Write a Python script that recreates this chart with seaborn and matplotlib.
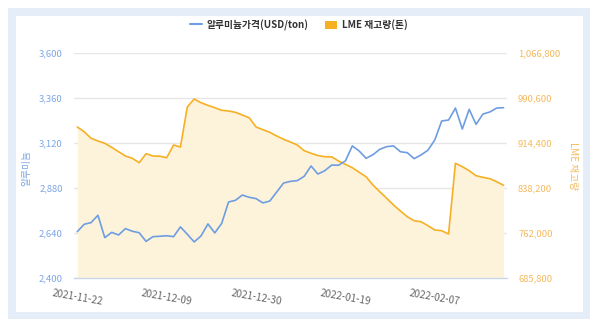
import numpy as np
import pandas as pd
import matplotlib
matplotlib.use("Agg")
import matplotlib.pyplot as plt
from matplotlib.patches import Rectangle, Patch
from matplotlib.lines import Line2D
import seaborn as sns

# LME trading days (exchange closed for the Christmas / New Year holidays)
lme_holidays = ["2021-12-27", "2021-12-28", "2022-01-03"]
trade_dates = pd.bdate_range("2021-11-22", "2022-02-21", freq="C", holidays=lme_holidays)

# Aluminium cash price, USD/ton
price = [2649, 2688, 2697, 2736, 2617, 2645, 2631, 2665, 2651, 2643,
         2597, 2622, 2624, 2627, 2622, 2674, 2635, 2594, 2626, 2690,
         2642, 2693, 2807, 2816, 2844, 2832, 2825, 2802, 2812, 2860,
         2908, 2917, 2921, 2944, 2999, 2956, 2974, 3004, 3003, 3026,
         3106, 3079, 3040, 3059, 3088, 3102, 3106, 3075, 3070, 3038,
         3058, 3083, 3138, 3239, 3244, 3308, 3196, 3301, 3221, 3276,
         3287, 3308, 3310]

# LME aluminium stocks, tonnes
stock = [942000, 934000, 922900, 918300, 914400, 907600, 900200, 892900, 889000, 881500,
         896800, 892900, 892500, 890000, 911500, 908100, 975900, 989400, 983100, 978700,
         974700, 970300, 969100, 966900, 962300, 957700, 942000, 937400, 933000, 926800,
         921200, 916600, 911500, 901900, 897500, 893700, 891700, 891500, 884400, 878800,
         873100, 865300, 857800, 843800, 832400, 821300, 809900, 799800, 790100, 783300,
         781600, 774900, 767600, 766400, 760800, 880500, 874800, 868000, 859500, 856800,
         854500, 849400, 843300]

price_ticks = [2400, 2640, 2880, 3120, 3360, 3600]
stock_ticks = [685800, 762000, 838200, 914400, 990600, 1066800]
label_every = 13

price_name = "알루미늄가격(USD/ton)"
stock_name = "LME 재고량(톤)"
price_axis_title = "알루미늄"
stock_axis_title = "LME 재고량"

df = pd.DataFrame({"date": trade_dates, "price": price, "stock": stock})
df["pos"] = np.arange(len(df))

BLUE = "#6e9de2"
BLUE_TXT = "#7ea6e6"
ORANGE = "#f6b024"
ORANGE_TXT = "#f5b95c"
FILL = "#fdf3db"
AXIS = "#ccd6eb"
GRID = "#e6e6e6"

sns.set_style("white")
plt.rcParams["font.family"] = ["Noto Sans CJK KR", "DejaVu Sans"]

W, H = 600, 323
fig = plt.figure(figsize=(W / 100, H / 100), dpi=100, facecolor="white")

# card frame: light-blue border around a white panel
fig.patches.append(Rectangle((8 / W, 1 - 319 / H), 582 / W, 311 / H, transform=fig.transFigure,
                             facecolor="#e4edf8", edgecolor="none", zorder=-10))
fig.patches.append(Rectangle((16 / W, 1 - 312 / H), 567 / W, 296 / H, transform=fig.transFigure,
                             facecolor="white", edgecolor="none", zorder=-9))

ax = fig.add_axes([74 / W, 1 - 278.3 / H, 433 / W, 225 / H])
ax2 = ax.twinx()
ax.set_zorder(2)
ax2.set_zorder(1)
ax.patch.set_visible(False)
ax2.patch.set_visible(False)

# stocks: filled area on the right axis
ax2.fill_between(df["pos"], df["stock"], stock_ticks[0], color=FILL, linewidth=0, zorder=1)
sns.lineplot(data=df, x="pos", y="stock", ax=ax2, color=ORANGE, linewidth=1.2, zorder=2)

# price line on the left axis
sns.lineplot(data=df, x="pos", y="price", ax=ax, color=BLUE, linewidth=1.2)

ax.set_xlim(-0.48, len(df) - 0.5)
ax.set_ylim(price_ticks[0], price_ticks[-1])
ax2.set_ylim(stock_ticks[0], stock_ticks[-1])

for a in (ax, ax2):
    a.set_xlabel("")
    a.set_ylabel("")
    for s in a.spines.values():
        s.set_visible(False)

ax.spines["bottom"].set_visible(True)
ax.spines["bottom"].set_color(AXIS)
ax.spines["bottom"].set_linewidth(1)

ax2.set_axisbelow(True)
ax2.yaxis.grid(True, color=GRID, linewidth=1)
ax.grid(False)
ax2.xaxis.grid(False)

ax.set_yticks(price_ticks)
ax.set_yticklabels([f"{v:,}" for v in price_ticks])
ax2.set_yticks(stock_ticks)
ax2.set_yticklabels([f"{v:,}" for v in stock_ticks])
ax.tick_params(axis="y", length=0, pad=8, labelsize=6.8, labelcolor=BLUE_TXT)
ax2.tick_params(axis="y", length=0, pad=8, labelsize=6.8, labelcolor=ORANGE_TXT)

xt = df["pos"].iloc[::label_every].tolist()
ax.set_xticks(xt)
ax.set_xticklabels([d.strftime("%Y-%m-%d") for d in df["date"].iloc[::label_every]],
                   rotation=-10, ha="center")
ax.tick_params(axis="x", length=5, width=1, color=AXIS, direction="out", pad=2,
               labelsize=7.2, labelcolor="#666666")
ax2.tick_params(axis="x", length=0)

fig.text(26.7 / W, 1 - 167.5 / H, price_axis_title, rotation=90, ha="center", va="center",
         fontsize=7, color=BLUE_TXT)
fig.text(573 / W, 1 - 166 / H, stock_axis_title, rotation=270, ha="center", va="center",
         fontsize=7, color=ORANGE_TXT)

handles = [Line2D([], [], color=BLUE, linewidth=1.5),
           Patch(facecolor=ORANGE, edgecolor="none")]
fig.legend(handles, [price_name, stock_name], loc="center",
           bbox_to_anchor=(299 / W, 1 - 25 / H), ncol=2, frameon=False,
           prop={"size": 7, "weight": "bold"}, labelcolor="#333333",
           handlelength=1.2, handleheight=0.9, handletextpad=0.5, columnspacing=1.7)

fig.savefig("out.png", dpi=100, facecolor="white")
